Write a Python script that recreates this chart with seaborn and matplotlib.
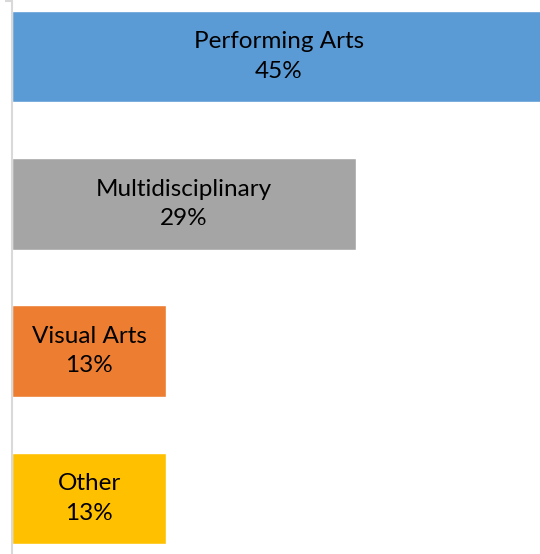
import pandas as pd
import matplotlib.pyplot as plt
import seaborn as sns

categories = ['Performing Arts', 'Multidisciplinary', 'Visual Arts', 'Other']
shares = [45, 29, 13, 13]
colors = ['#5B9BD5', '#A5A5A5', '#ED7D31', '#FFC000']

df = pd.DataFrame({'category': categories, 'share': shares})

sns.set_style('white')
plt.rcParams['font.family'] = ['Lato', 'DejaVu Sans']

fig = plt.figure(figsize=(5.4, 5.54), dpi=100)
ax = fig.add_axes([12/540, 0, 1 - 12/540, 553/554])

sns.barplot(data=df, y='category', x='share', hue='category',
            palette=dict(zip(categories, colors)), orient='h',
            width=0.62, legend=False, saturation=1, ax=ax)

ax.set_xlim(0, 44.5)
ax.set_ylim(3.377, -0.377)

for i, (cat, val) in enumerate(zip(categories, shares)):
    ax.text(val / 2, i, f"{cat}\n{val}%", ha='center', va='center',
            fontsize=17.5, color='black', linespacing=1.5)

for s in ['top', 'right', 'bottom']:
    ax.spines[s].set_visible(False)
ax.spines['left'].set_color('#D9D9D9')
ax.spines['left'].set_linewidth(1.5)

ax.set_xticks([])
ax.set_yticks([-0.377])
ax.set_yticklabels([''])
ax.tick_params(axis='y', length=5, width=1.5, color='#D9D9D9', left=True)
ax.set_xlabel('')
ax.set_ylabel('')

plt.savefig('out.png', dpi=100)
